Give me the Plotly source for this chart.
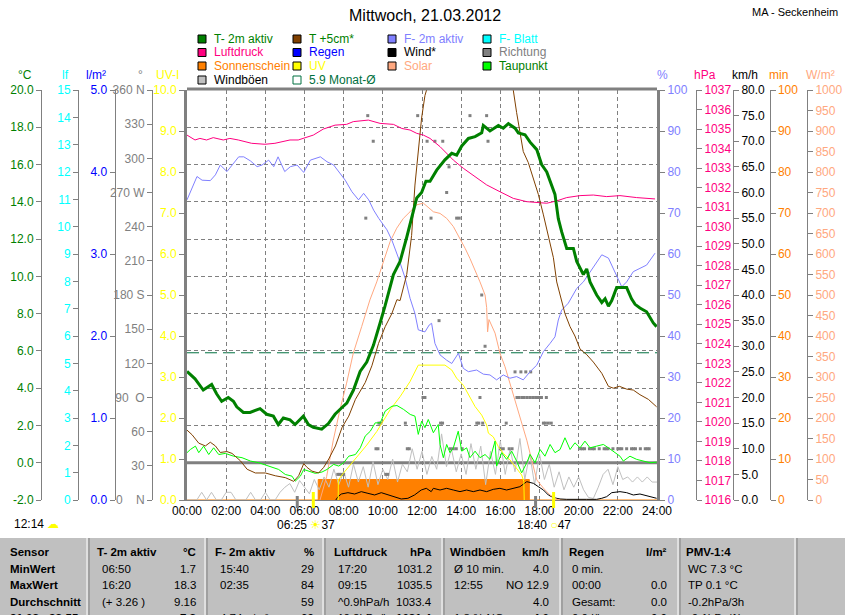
import plotly.graph_objects as go

W, H = 845, 615
FONT = "Liberation Sans"

GREEN = "#008000"
BROWN = "#804000"
LAV = "#8080ff"
CYAN = "#00ffff"
PINK = "#ff0080"
BLUE = "#0000ff"
BLACK = "#000000"
GRAY = "#808080"
ORANGE = "#ff8000"
YELLOW = "#ffff00"
SALMON = "#ffa880"
LIME = "#00ff00"
SILVER = "#c0c0c0"
TEAL = "#007040"

# ---------------- data (x = hours since 00:00) ----------------
# T- 2m aktiv (degC)
t2m_h = [0, 0.41, 0.83, 1.26, 1.51, 1.77, 2.11, 2.37, 2.54, 2.88, 3.22, 3.73, 4.07, 4.41, 4.66,
         4.92, 5.26, 5.52, 5.94, 6.2, 6.45, 6.88, 7.22, 7.56, 7.9, 8.16, 8.5, 8.84, 9.18, 9.52,
         9.86, 10.11, 10.54, 10.88, 11.22, 11.47, 11.73, 11.98, 12.2, 12.41, 12.75, 13.17, 13.52,
         13.77, 14.03, 14.37, 14.71, 15.05, 15.13, 15.47, 15.9, 16.15, 16.41, 16.75, 16.92, 17.26,
         17.52, 17.86, 18.11, 18.37, 18.62, 18.79, 18.96, 19.13, 19.39, 19.73, 19.9, 20.24, 20.41,
         20.58, 20.92, 21.18, 21.35, 21.52, 21.69, 21.94, 22.45, 22.7, 22.88, 23.13, 23.47, 23.81, 23.98]
t2m_c = [4.9, 4.5, 3.9, 4.2, 3.7, 3.3, 3.5, 3.3, 3.0, 2.7, 2.7, 2.9, 2.6, 2.5, 2.05,
         2.4, 2.3, 2.05, 2.5, 2.05, 1.9, 1.8, 2.1, 2.6, 2.95, 3.2, 3.9, 4.9, 5.4, 6.3,
         7.5, 8.4, 10.1, 10.8, 12.1, 13.1, 14.2, 14.5, 15.1, 15.1, 15.7, 16.25, 16.6,
         16.5, 17.0, 17.4, 17.5, 17.7, 18.1, 17.8, 18.1, 17.95, 18.2, 17.95, 17.7, 17.6,
         17.2, 16.8, 16.0, 15.6, 14.9, 14.4, 13.1, 12.4, 11.5, 11.5, 10.8, 10.1, 10.4,
         9.7, 9.0, 8.6, 8.8, 8.4, 8.7, 9.4, 9.4, 8.8, 8.5, 8.3, 8.1, 7.5, 7.3]

# T +5cm (degC), runs off the top of the chart around midday
t5_h = [0, 0.26, 0.6, 0.94, 1.19, 1.45, 1.7, 2.04, 2.3, 2.73, 3.07, 3.49, 4.0, 4.51, 5.02,
        5.45, 5.7, 5.96, 6.13, 6.38, 6.72, 6.98, 7.24, 7.58, 7.92, 8.26, 8.6, 9.1, 9.44, 9.78,
        10.12, 10.46, 10.72, 10.88, 11.22, 11.47, 11.64, 11.81, 11.98, 12.15, 12.5, 13.2, 14.2,
        15.2, 16.0, 16.4, 16.66, 16.83, 17.0, 17.17, 17.43, 17.68, 17.94, 18.2, 18.45, 18.71,
        18.88, 19.13, 19.3, 19.56, 19.81, 20.07, 20.41, 20.75, 21.18, 21.52, 21.77, 22.08,
        22.45, 22.79, 23.13, 23.56, 23.98]
t5_c = [1.75, 1.5, 1.05, 0.9, 1.1, 0.9, 0.55, 0.6, 0.5, 0.1, -0.35, -0.55, -0.55, -0.7, -0.8,
        -1.0, -0.7, -0.05, -0.25, -0.45, -0.55, -0.25, 0.2, 0.9, 1.9, 2.5, 3.4, 4.3, 5.2, 6.4,
        7.3, 8.0, 8.75, 8.7, 10.1, 12.2, 14.9, 16.7, 18.5, 19.7, 21.0, 23.5, 25.0,
        24.5, 22.5, 21.0, 20.0, 18.8, 17.8, 16.7, 16.1, 15.3, 14.4, 13.3, 12.2, 11.0,
        9.7, 8.7, 8.0, 7.3, 6.8, 6.1, 5.8, 5.4, 4.8, 4.1, 4.0, 4.1,
        3.95, 3.9, 3.65, 3.4, 3.0]

# Taupunkt (degC)
tau_h = [0, 0.17, 0.43, 0.6, 0.85, 1.11, 1.36, 1.62, 1.96, 2.38, 2.81, 3.24, 3.66, 4.17, 4.68,
         5.02, 5.36, 5.53, 5.79, 5.96, 6.21, 6.55, 6.89, 7.15, 7.49, 7.75, 8.0, 8.26, 8.6, 8.85,
         9.1, 9.36, 9.61, 9.87, 10.12, 10.46, 10.72, 11.06, 11.4,
         11.64, 11.81, 11.98, 12.15, 12.32, 12.58, 12.83, 12.92, 13.09, 13.26, 13.43, 13.6, 13.85,
         14.03, 14.28, 14.45, 14.71, 14.96, 15.22, 15.47, 15.73, 15.81, 16.07, 16.32, 16.58, 16.83,
         17.09, 17.35, 17.52, 17.77, 18.03, 18.28, 18.54, 18.79, 19.05, 19.3, 19.56, 19.81, 20.07,
         20.32, 20.58, 20.92, 21.26, 21.52,
         21.77, 22.11, 22.28, 22.62, 22.96, 23.3, 23.64, 23.98]
tau_c = [0.54, 0.71, 0.89, 0.54, 0.89, 0.44, 0.8, 0.44, 0.5, 0.35, 0.27, 0.09, 0.0, -0.18, -0.36,
         -0.63, -0.72, -0.99, -0.72, -0.36, -0.45, -0.57, -0.5, -0.36, -0.09, -0.18, 0.0, 0.35, 0.44, 0.8,
         1.43, 1.69, 2.14, 2.14, 2.77, 3.03, 3.07, 2.86, 2.59,
         2.5, 1.52, 2.23, 1.88, 2.32, 1.61, 2.05, 0.98, 0.27, 0.98, 0.54, 0.8, 1.69,
         0.62, 0.8, 0.27, 0.62, 0.27, 0.44, 0.18, 1.16, -0.18, 0.54, 0.18, 0.62, 0.09,
         -0.54, 0.0, 0.44, 0.0, 0.71, 0.35, 0.98, 0.54, 0.71, 1.34, 0.71, 1.07, 0.8,
         1.16, 0.8, 0.89, 0.98, 0.8,
         0.62, 0.35, 0.09, 0.35, 0.18, 0.09, 0.0, 0.03]

# Luftdruck (hPa)
p_h = [0, 0.41, 0.66, 1.0, 1.34, 1.85, 2.19, 2.62, 3.3, 3.98, 4.49, 4.83, 5.26, 5.68, 6.1,
       6.45, 6.96, 7.56, 8.15, 8.49, 9.26, 9.86, 10.54, 10.97, 11.39, 11.73, 12.07, 12.41, 12.92,
       13.6, 14.11, 14.71, 15.3, 15.98, 16.66, 17.35, 17.94, 18.37, 18.88, 19.39, 20.07, 20.75,
       21.43, 22.11, 22.96, 23.9]
p_hpa = [1034.69, 1034.44, 1034.52, 1034.44, 1034.56, 1034.44, 1034.52, 1034.44, 1034.27, 1034.22,
         1034.27, 1034.35, 1034.44, 1034.44, 1034.56, 1034.69, 1035.0, 1035.2, 1035.24, 1035.38,
         1035.46, 1035.29, 1035.24, 1035.03, 1034.95, 1034.78, 1034.69, 1034.52, 1034.1, 1033.41,
         1032.99, 1032.56, 1032.14, 1031.79, 1031.45, 1031.28, 1031.25, 1031.2, 1031.32, 1031.49,
         1031.59, 1031.62, 1031.54, 1031.59, 1031.49, 1031.42]

# F- 2m aktiv (%)
f_h = [0, 0.17, 0.34, 0.51, 0.77, 1.19, 1.45, 1.7, 2.04, 2.3, 2.64, 2.9, 3.24, 3.58, 3.83,
       4.17, 4.43, 4.65, 4.99, 5.28, 5.62, 5.96, 6.3, 6.81, 7.15, 7.49, 7.83, 8.08, 8.42, 8.76,
       9.02, 9.28, 9.53, 9.79, 10.21, 10.46, 10.8, 11.14, 11.39, 11.64, 11.81, 12.15, 12.37, 12.49,
       12.66, 12.92, 13.26, 13.52, 13.86, 14.11, 14.37, 14.79, 15.13, 15.47, 15.81, 16.15, 16.49,
       16.83, 17.17, 17.52, 17.86, 18.2, 18.54, 18.79, 18.96, 19.13, 19.47, 19.9, 20.24, 20.49,
       20.75, 21.18, 21.52, 21.77, 22.03, 22.2, 22.45, 22.79, 23.13, 23.47, 23.9]
f_pct = [73.2, 75.2, 76.8, 78.9, 78.0, 77.9, 79.3, 81.7, 80.1, 81.7, 83.7, 83.7, 82.7, 81.3, 81.7,
         82.9, 81.3, 83.7, 80.1, 81.3, 81.7, 79.9, 82.9, 83.7, 82.5, 81.7, 79.7, 78.0, 75.2, 73.2,
         74.8, 73.2, 70.7, 68.7, 65.9, 63.4, 59.0, 54.1, 49.2, 45.5, 41.5, 41.0, 42.7, 43.1,
         38.2, 35.4, 34.1, 33.3, 35.8, 32.1, 31.3, 31.7, 30.7, 30.5, 29.3, 30.5, 29.7,
         30.1, 29.3, 31.3, 32.9, 36.2, 38.2, 39.8, 43.9, 46.3, 48.0, 51.6, 53.2, 54.9,
         56.9, 59.8, 59.0, 56.5, 54.1, 52.0, 53.2, 55.7, 56.5, 57.3, 60.2]

# Solar (W/m2)
sol_h = [6.79, 7.13, 7.47, 7.81, 8.15, 8.49, 8.92, 9.34, 9.69, 10.03, 10.37, 10.71, 11.05, 11.39,
         11.73, 12.07, 12.41, 12.58, 12.92, 13.26, 13.6, 13.94, 14.2, 14.45, 14.71, 14.96, 15.22,
         15.3, 15.35, 15.42, 15.73, 15.98, 16.24, 16.49, 16.83, 17.09, 17.35, 17.6, 17.86, 18.2,
         18.54, 18.88, 19.05]
sol_w = [0, 57, 146, 220, 285, 358, 423, 488, 532, 581, 630, 663, 687, 703,
         720, 724, 711, 703, 699, 687, 667, 638, 614, 589, 561, 532, 500,
         470, 410, 440, 407, 358, 325, 285, 228, 187, 146, 98, 49, 29,
         12, 2, 0]

# UV index
uv_h = [7.72, 7.73, 7.98, 8.32, 8.67, 9.18, 9.69, 10.03, 10.37, 10.88, 11.39, 11.81, 13.17, 13.52,
        13.77, 14.11, 14.37, 14.71, 15.05, 15.3, 15.39, 15.64, 15.9, 16.15, 16.49, 16.83, 17.09,
        17.2, 17.22]
uv_i = [0, 0.49, 0.65, 0.85, 1.06, 1.34, 1.67, 1.95, 2.2, 2.52, 2.89, 3.29, 3.29, 3.17,
        2.97, 2.8, 2.56, 2.28, 2.07, 1.83, 1.63, 1.54, 1.3, 1.14, 0.98, 0.77, 0.61,
        0.45, 0]

# Wind* (km/h)
wind_h = [7.6, 7.71, 7.88, 8.22, 8.56, 8.9, 9.24, 9.58, 9.92, 10.26, 10.6, 10.94, 11.28, 11.62,
          11.96, 12.22, 12.47, 12.58, 12.92, 13.26, 13.6, 13.94, 14.28, 14.62, 14.96, 15.3, 15.64,
          15.98, 16.32, 16.66, 17.0, 17.35, 17.69, 17.94, 18.2, 18.45, 18.71, 19.05, 19.39, 20.41,
          20.92, 21.18, 21.43, 21.69, 22.11, 22.45, 22.79, 23.13, 23.64, 23.98]
wind_kmh = [0, 0.65, 1.17, 1.43, 1.17, 1.63, 1.3, 0.98, 1.43, 0.98, 0.52, 0.2, 0.33, 0.98,
            1.95, 2.28, 1.63, 2.28, 1.95, 2.28, 1.95, 1.63, 1.95, 1.63, 1.95, 1.63, 2.08,
            2.28, 1.95, 2.28, 2.6, 3.58, 3.25, 2.6, 1.95, 0.98, 0.46, 0.2, 0.13, 0.13,
            0.13, 0.33, 0.65, 1.43, 1.63, 1.43, 0.98, 1.17, 0.65, 0.33]

# Windboeen (km/h), one value every 15 minutes from 00:00 to 24:00
gust_step = 0.25
gust_kmh = [0, 0, 0, 1.5, 0, 1.5, 0, 0, 1.5, 1.5, 0, 0,
            0, 1.5, 0, 0, 1.5, 0, 0, 1.5, 2.5, 3.2, 1.5, 3.8,
            2.5, 1.2, 4.0, 2.0, 4.5, 2.5, 6.0, 3.0, 5.5, 2.5, 7.0, 3.5,
            6.5, 2.5, 7.5, 3.0, 6.0, 4.0, 8.0, 3.5, 7.0, 5.5, 10.0, 6.0,
            9.5, 5.0, 8.5, 6.0, 12.9, 6.5, 10.0, 5.5, 9.0, 5.0, 11.0, 6.0,
            10.5, 3.0, 9.5, 5.0, 11.5, 5.0, 10.0, 5.5, 12.0, 4.0, 9.0, 3.0,
            9.0, 4.0, 7.0, 2.5, 5.5, 2.0, 4.5, 2.5, 4.5, 2.0, 0.5, 0.3,
            2.5, 5.0, 6.0, 3.0, 6.5, 4.0, 4.5, 3.5, 4.5, 3.5, 4.5, 3.5, 3.5]
gust_h = [i * gust_step for i in range(len(gust_kmh))]

# Richtung (deg), single readings
dir_h = [7.70, 7.80, 7.90, 8.00, 9.13, 9.23, 9.51, 9.65, 9.75, 9.80, 9.90, 10.15, 10.25, 11.15,
         11.25, 11.35, 11.78, 12.05, 12.15, 12.26, 12.46, 12.66, 12.87, 12.95, 13.05, 13.06, 13.26,
         13.38, 13.45, 13.60, 13.75, 13.77, 13.90, 14.05, 14.45, 14.80, 14.90, 14.96, 15.05, 15.10,
         15.22, 15.30, 15.37, 16.00, 16.15, 16.30, 16.45, 16.60, 16.75, 16.85, 16.95, 17.05, 17.10,
         17.20, 17.30, 17.35, 17.50, 17.55, 17.65, 17.80, 17.95, 18.10, 18.20, 18.30, 18.35, 18.45,
         18.60, 20.10, 20.20, 20.30, 20.55, 20.70, 20.80, 21.05, 21.30, 21.40, 21.50, 21.75, 22.00,
         22.10, 22.20, 22.45, 22.70, 22.80, 22.90, 23.15, 23.40, 23.50, 23.60]
dir_deg = [22.5, 22.5, 22.5, 22.5, 247.5, 337.5, 315, 45, 45, 67.5, 67.5, 22.5, 22.5, 67.5,
           45, 45, 337.5, 90, 90, 315, 247.5, 315, 157.5, 67.5, 67.5, 315, 270,
           292.5, 45, 45, 45, 247.5, 247.5, 45, 337.5, 67.5, 67.5, 90, 180, 67.5,
           135, 337.5, 315, 45, 45, 67.5, 45, 45, 112.5, 90, 90, 112.5, 90,
           90, 112.5, 90, 90, 112.5, 90, 90, 90, 90, 67.5, 67.5, 90, 67.5,
           67.5, 45, 45, 45, 45, 45, 45, 45, 45, 45, 45, 45, 45,
           45, 45, 45, 45, 45, 45, 45, 45, 45, 45]

# Sonnenschein (min per 5-min slot), as change points
sun_h = [0, 6.7, 17.48, 24]
sun_min = [0, 5, 0, 0]

month_avg = 5.9
sun_marks = [6.45, 18.72]       # sunrise / sunset marks (yellow)
twilight_marks = [5.63, 17.8]   # grey marks

hour_ticks = list(range(0, 25, 2))
hour_labels = ["%02d:00" % h for h in hour_ticks]
temp_ticks = [-2, 0, 2, 4, 6, 8, 10, 12, 14, 16, 18, 20]
lf_ticks = list(range(0, 16))
rain_ticks = [0, 1, 2, 3, 4, 5]
dir_ticks = list(range(0, 361, 30))
dir_labels = ["0\u00a0\u00a0\u00a0\u00a0N", "30", "60", "90\u00a0\u00a0O", "120", "150", "180 S",
              "210", "240", "270 W", "300", "330", "360 N"]
uv_ticks = list(range(0, 11))
hum_ticks = list(range(0, 101, 10))
hpa_ticks = list(range(1016, 1038))
kmh_ticks = list(range(0, 81, 5))
min_ticks = list(range(0, 101, 10))
sol_ticks = list(range(0, 1001, 50))

table_head = ["Sensor", "T- 2m aktiv", "°C", "F- 2m aktiv", "%", "Luftdruck", "hPa",
              "Windböen", "km/h", "Regen", "l/m²", "PMV-1:4"]
table_rows = [
    ["MinWert", "06:50", "1.7", "15:40", "29", "17:20", "1031.2", "Ø 10 min.", "4.0", "0 min.", "", "WC 7.3 °C"],
    ["MaxWert", "16:20", "18.3", "02:35", "84", "09:15", "1035.5", "12:55", "NO 12.9", "00:00", "0.0", "TP 0.1 °C"],
    ["Durchschnitt", "(+ 3.26 )", "9.16", "", "59", "^0.9hPa/h", "1033.4", "", "4.0", "Gesamt:", "0.0", "-0.2hPa/3h"],
    ["21.03 - 23:55", "", "7.3", "4.74 g/m³", "69", "^0.2hPa/h", "1031.4", "1.8 % NO", "4.0", "0.0 l/h", "0.0", "-0.1hPa/1h"],
]


def px(x):
    return x / W


def py(y):
    return 1 - y / H


YDOM = [py(500), py(90)]


def yax(rng, vals, text, color, side, pos=None, lw=1, overlay=True):
    d = dict(range=rng, domain=YDOM, tickmode="array", tickvals=vals, ticktext=text,
             tickfont=dict(family=FONT, size=12, color=color), side=side,
             showgrid=False, zeroline=False, showline=True, linecolor=GRAY, linewidth=lw,
             ticks="outside", ticklen=5, tickwidth=1, tickcolor=GRAY,
             fixedrange=True, automargin=False)
    if pos is None:
        d["anchor"] = "x"
    else:
        d["anchor"] = "free"
        d["position"] = pos
    if overlay:
        d["overlaying"] = "y"
    return d


fmt1 = lambda vals: ["%.1f" % v for v in vals]

fig = go.Figure()


def line(x, y, axis, color, width=1, shape="linear", fill=None):
    fig.add_trace(go.Scatter(x=x, y=y, yaxis=axis, mode="lines", line=dict(color=color, width=width, shape=shape),
                             fill=fill, fillcolor=color, hoverinfo="skip"))


# drawing order follows the axis numbers (overlays are stacked y, y2, y3 ...)
line(sun_h, sun_min, "y", ORANGE, 1, shape="hv", fill="tozeroy")
line(gust_h, gust_kmh, "y2", SILVER)
line(wind_h, wind_kmh, "y2", BLACK)
fig.add_trace(go.Scatter(x=dir_h, y=dir_deg, yaxis="y3", mode="markers",
                         marker=dict(symbol="square", size=3, color=GRAY, line=dict(width=0)), hoverinfo="skip"))
line(uv_h, uv_i, "y4", YELLOW)
line(sol_h, sol_w, "y5", SALMON)
line(f_h, f_pct, "y6", LAV)
line(p_h, p_hpa, "y7", PINK)
line(tau_h, tau_c, "y8", LIME)
line(t5_h, t5_c, "y8", BROWN)
line(t2m_h, t2m_c, "y8", GREEN, 3)
# F- Blatt and Regen have no visible values this day; empty traces keep their axes
fig.add_trace(go.Scatter(x=[], y=[], yaxis="y9", mode="lines", line=dict(color=CYAN)))
fig.add_trace(go.Scatter(x=[], y=[], yaxis="y10", mode="lines", line=dict(color=BLUE)))

temp_ax = yax([-2, 20], temp_ticks, fmt1(temp_ticks), GREEN, "left", px(41))
temp_ax.update(showgrid=True, gridcolor=GRAY, gridwidth=1, griddash="4px,3px")

fig.update_layout(
    width=W, height=615, margin=dict(l=0, r=0, t=0, b=0),
    paper_bgcolor="white", plot_bgcolor="white", showlegend=False,
    font=dict(family=FONT, size=12, color=BLACK),
    xaxis=dict(domain=[px(187), px(657)], range=[0, 24], tickmode="array", tickvals=hour_ticks,
               ticktext=hour_labels, showgrid=True, gridcolor=GRAY, gridwidth=1, griddash="4px,3px",
               zeroline=False, showline=True, linecolor=GRAY, linewidth=1, ticks="",
               tickfont=dict(family=FONT, size=12, color=BLACK), anchor="y", fixedrange=True,
               automargin=False),
    yaxis=yax([0, 100], min_ticks, [str(v) for v in min_ticks], ORANGE, "right", px(769.5), overlay=False),
    yaxis2=yax([0, 80], kmh_ticks, fmt1(kmh_ticks), BLACK, "right", px(733)),
    yaxis3=yax([0, 360], dir_ticks, dir_labels, GRAY, "left", px(152)),
    yaxis4=yax([0, 10], uv_ticks, fmt1(uv_ticks), YELLOW, "left", None, lw=3),
    yaxis5=yax([0, 1000], sol_ticks, [str(v) for v in sol_ticks], SALMON, "right", px(807)),
    yaxis6=yax([0, 100], hum_ticks, [str(v) for v in hum_ticks], LAV, "right", None, lw=3),
    yaxis7=yax([1016, 1037], hpa_ticks, [str(v) for v in hpa_ticks], PINK, "right", px(696)),
    yaxis8=temp_ax,
    yaxis9=yax([0, 15], lf_ticks, [str(v) for v in lf_ticks], CYAN, "left", px(78)),
    yaxis10=yax([0, 5], rain_ticks, fmt1(rain_ticks), BLUE, "left", px(114.5)),
)

shapes = []
# top frame edge
shapes.append(dict(type="line", xref="x domain", yref="paper", x0=0, x1=1, y0=py(89), y1=py(89),
                   line=dict(color=GRAY, width=3)))
# 0 degC line and monthly mean
shapes.append(dict(type="line", xref="x domain", yref="y8", x0=0, x1=1, y0=0, y1=0,
                   line=dict(color=GRAY, width=3), layer="below"))
shapes.append(dict(type="line", xref="x domain", yref="y8", x0=0, x1=1, y0=month_avg, y1=month_avg,
                   line=dict(color=TEAL, width=1, dash="12px,6px"), layer="below"))
for t in twilight_marks:
    shapes.append(dict(type="line", xref="x", yref="paper", x0=t, x1=t, y0=py(508), y1=py(496),
                       line=dict(color=GRAY, width=3)))
for t in sun_marks:
    shapes.append(dict(type="line", xref="x", yref="paper", x0=t, x1=t, y0=py(508), y1=py(492),
                       line=dict(color=YELLOW, width=3)))

ann = []


def text(x, y, s, color=BLACK, size=12, anchor="left", bold=False):
    if bold:
        s = "<b>%s</b>" % s
    ann.append(dict(x=px(x), y=py(y), xref="paper", yref="paper", text=s, showarrow=False,
                    xanchor=anchor, yanchor="middle", font=dict(family=FONT, size=size, color=color)))


# title
text(425, 15, "Mittwoch, 21.03.2012", size=16, anchor="center")
text(840, 12, "MA - Seckenheim", size=11, anchor="right")

# axis unit labels
for lbl, x, c in [("°C", 25, GREEN), ("lf", 65, CYAN), ("l/m²", 96, BLUE), ("°", 140, GRAY),
                  ("UV-I", 167, YELLOW), ("%", 662, LAV), ("hPa", 705, PINK), ("km/h", 745, BLACK),
                  ("min", 778, ORANGE), ("W/m²", 820, SALMON)]:
    text(x, 75, lbl, color=c, size=12, anchor="center")

# legend
leg_sq_x = [198, 293, 388, 483]
leg_txt_x = [212, 307, 402, 497]
leg_row_y = [39, 52.5, 66, 80]
legend = [
    (0, 0, "T- 2m aktiv", GREEN, GREEN), (1, 0, "T +5cm*", BROWN, GREEN),
    (2, 0, "F- 2m aktiv", LAV, LAV), (3, 0, "F- Blatt", CYAN, CYAN),
    (0, 1, "Luftdruck", PINK, PINK), (1, 1, "Regen", BLUE, BLUE),
    (2, 1, "Wind*", BLACK, BLACK), (3, 1, "Richtung", GRAY, GRAY),
    (0, 2, "Sonnenschein", ORANGE, ORANGE), (1, 2, "UV", YELLOW, YELLOW),
    (2, 2, "Solar", SALMON, SALMON), (3, 2, "Taupunkt", LIME, GREEN),
    (0, 3, "Windböen", SILVER, BLACK), (1, 3, "%.1f Monat-Ø" % month_avg, None, TEAL),
]
for col, row, lbl, fillc, tc in legend:
    x0, yc = leg_sq_x[col], leg_row_y[row]
    if fillc is None:
        shapes.append(dict(type="rect", xref="paper", yref="paper", x0=px(x0), x1=px(x0 + 8),
                           y0=py(yc + 4), y1=py(yc - 4), line=dict(color=TEAL, width=1)))
    else:
        shapes.append(dict(type="rect", xref="paper", yref="paper", x0=px(x0), x1=px(x0 + 8),
                           y0=py(yc + 4), y1=py(yc - 4), fillcolor=fillc, line=dict(color=BLACK, width=1)))
    text(leg_txt_x[col], yc, lbl, color=tc, size=12)

# sun info under the time axis
text(12, 524, "12:14 <span style='color:#ffff00'>☁</span>", size=12)
text(306, 525, "06:25 <span style='color:#ffff00'>☀</span>37", size=12, anchor="center")
text(544, 525, "18:40 <span style='color:#ffff00'>○</span>47", size=12, anchor="center")

# statistics table
shapes.append(dict(type="rect", xref="paper", yref="paper", x0=0, x1=1, y0=0, y1=py(538),
                   fillcolor="#c0c0c0", line=dict(width=0), layer="below"))
for sx in [87, 205, 323, 442, 560, 678, 795]:
    shapes.append(dict(type="line", xref="paper", yref="paper", x0=px(sx), x1=px(sx), y0=0, y1=py(538),
                       line=dict(color="white", width=1)))
    shapes.append(dict(type="line", xref="paper", yref="paper", x0=px(sx + 2), x1=px(sx + 2), y0=0, y1=py(538),
                       line=dict(color=GRAY, width=1)))

row_y = [552, 568.5, 585, 601.5, 618]
head_x = [95, 213, 332, 448, 567, 684]
val_x = [100, 218, 336, 452, 570, 686]
right_x = [198, 316, 434, 551, 669]
TS = 11.5
text(8, row_y[0], table_head[0], size=TS, bold=True)
for i in range(6):
    text(head_x[i], row_y[0], table_head[1 + 2 * i], size=TS, bold=True)
    if i < 5:
        text(right_x[i], row_y[0], table_head[2 + 2 * i], size=TS, anchor="right", bold=True)
for r, row in enumerate(table_rows):
    y = row_y[r + 1]
    text(8, y, row[0], size=TS, bold=True)
    for i in range(6):
        if row[1 + 2 * i]:
            text(val_x[i], y, row[1 + 2 * i], size=TS)
        if i < 5 and row[2 + 2 * i]:
            text(right_x[i], y, row[2 + 2 * i], size=TS, anchor="right", bold=(r == 3))

fig.update_layout(shapes=shapes, annotations=ann)
# the page body gets no margin so the 845x615 figure fills the window exactly
fig.write_html("out.html", config={"displayModeBar": False},
               post_script="document.body.style.margin='0';document.body.style.overflow='hidden';")
